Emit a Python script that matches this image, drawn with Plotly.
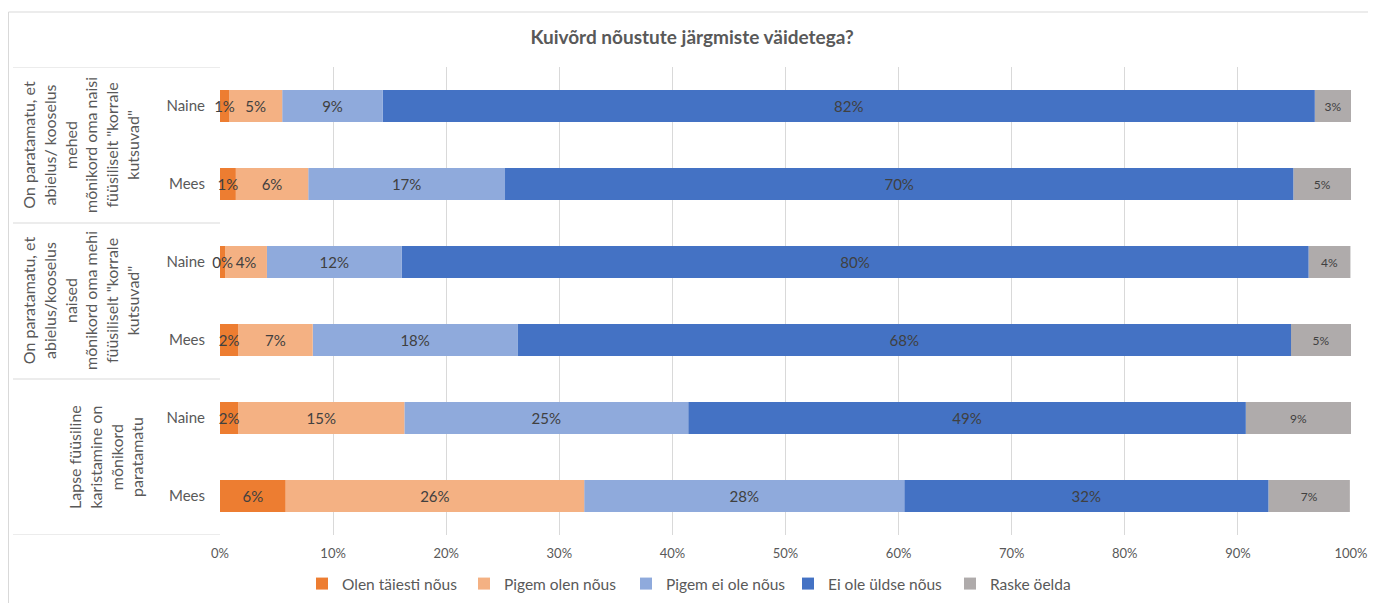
import plotly.graph_objects as go

# ---- data ----
groups = [
    'On paratamatu, et<br>abielus/ kooselus<br>mehed<br>mõnikord oma naisi<br>füüsiliselt "korrale<br>kutsuvad"',
    'On paratamatu, et<br>abielus/kooselus<br>naised<br>mõnikord oma mehi<br>füüsiliselt "korrale<br>kutsuvad"',
    'Lapse füüsiline<br>karistamine on<br>mõnikord<br>paratamatu',
]
sexes = ["Naine", "Mees", "Naine", "Mees", "Naine", "Mees"]
series_names = ["Olen täiesti nõus", "Pigem olen nõus", "Pigem ei ole nõus", "Ei ole üldse nõus", "Raske öelda"]
olen_taiesti = [0.8, 1.4, 0.45, 1.6, 1.6, 5.8]
pigem_olen = [4.7, 6.4, 3.7, 6.6, 14.7, 26.4]
pigem_ei = [8.9, 17.4, 11.9, 18.1, 25.1, 28.3]
ei_ole = [82.4, 69.7, 80.2, 68.4, 49.3, 32.2]
raske = [3.2, 5.1, 3.7, 5.3, 9.3, 7.2]
x_ticks = [0, 10, 20, 30, 40, 50, 60, 70, 80, 90, 100]
x_tick_labels = [f"{v}%" for v in x_ticks]

values = [olen_taiesti, pigem_olen, pigem_ei, ei_ole, raske]
colors = ["#ED7D31", "#F4B183", "#8FAADC", "#4472C4", "#AFABAB"]
label_sizes = [15, 15, 15, 15, 12]

FONT = "Lato"
TXT = "#595959"

ypos = list(range(len(sexes)))

# page body has an 8px margin; reference pixel coords are converted
OFF = 8
W, H = 1376 - OFF, 603 - OFF
PL, PR, PT, PB = 220 - OFF, 1351 - OFF, 67 - OFF, 535 - OFF  # plot area in figure px
L, R, T, B = PL, W - PR, PT, H - PB
pw = PR - PL
ph = PB - PT


def rx(px):  # reference px -> paper x
    return (px - OFF - PL) / pw


def ry(py):  # reference px -> paper y
    return (PB - (py - OFF)) / ph


# stacked bars: base of each series = sum of the previous series
bases = []
running = [0.0] * len(sexes)
for vals in values:
    bases.append(list(running))
    running = [r + v for r, v in zip(running, vals)]

fig = go.Figure()
# add in reverse so the first series' overflowing labels are drawn on top
for k in reversed(range(len(values))):
    fig.add_trace(go.Bar(
        name=series_names[k], x=values[k], base=bases[k], y=ypos, orientation="h",
        marker=dict(color=colors[k], line=dict(width=0)),
        width=0.41,
        texttemplate="%{x:.0f}%",
        textposition="inside", insidetextanchor="middle",
        textangle=0, constraintext="none", cliponaxis=(k != 0),
        textfont=dict(family=FONT, size=label_sizes[k], color="#404040"),
        hoverinfo="skip",
    ))

shapes = []
# group separators in the category label area
for yb in [-0.5, 1.5, 3.5, 5.5]:
    shapes.append(dict(type="line", xref="paper", yref="y",
                       x0=rx(13), x1=0, y0=yb, y1=yb,
                       line=dict(color="#D9D9D9", width=1)))
# chart outer border
shapes.append(dict(type="rect", xref="paper", yref="paper",
                   x0=(0.5 - PL) / pw, x1=rx(1400),
                   y0=ry(640), y1=ry(12),
                   line=dict(color="#D9D9D9", width=1), layer="below"))

annotations = []
group_centers_px = [80, 80, 105]
for i, g in enumerate(groups):
    annotations.append(dict(
        text=g, xref="paper", yref="y",
        x=rx(group_centers_px[i]), y=2 * i + 0.5,
        xanchor="center", yanchor="middle", textangle=-90,
        showarrow=False, align="center",
        font=dict(family=FONT, size=16, color=TXT),
    ))

fig.update_layout(
    width=W, height=H,
    margin=dict(l=L, r=R, t=T, b=B, autoexpand=False),
    paper_bgcolor="white", plot_bgcolor="white",
    barmode="overlay",
    title=dict(text="<b>Kuivõrd nõustute järgmiste väidetega?</b>",
               x=(692 - OFF) / W, y=1 - (37 - OFF) / H, xref="container", yref="container",
               xanchor="center", yanchor="middle",
               font=dict(family=FONT, size=19, color=TXT)),
    xaxis=dict(range=[0, 100.001], tickvals=x_ticks, ticktext=x_tick_labels,
               showgrid=True, gridcolor="#D9D9D9", gridwidth=1,
               zeroline=False, showline=False, ticks="",
               tickfont=dict(family=FONT, size=13, color=TXT),
               ticklabelstandoff=9, fixedrange=True, automargin=False),
    yaxis=dict(tickvals=ypos, ticktext=sexes, range=[5.5, -0.5],
               showgrid=False, zeroline=False, showline=False, ticks="",
               tickfont=dict(family=FONT, size=15, color=TXT),
               ticklabelstandoff=14, fixedrange=True, automargin=False),
    legend=dict(orientation="h", x=rx(707), xanchor="center",
                y=ry(584), yanchor="middle",
                entrywidth=117, entrywidthmode="pixels",
                font=dict(family=FONT, size=15.5, color=TXT),
                traceorder="reversed", itemclick=False, itemdoubleclick=False),
    shapes=shapes, annotations=annotations,
    showlegend=True,
)

fig.write_html("out.html")
